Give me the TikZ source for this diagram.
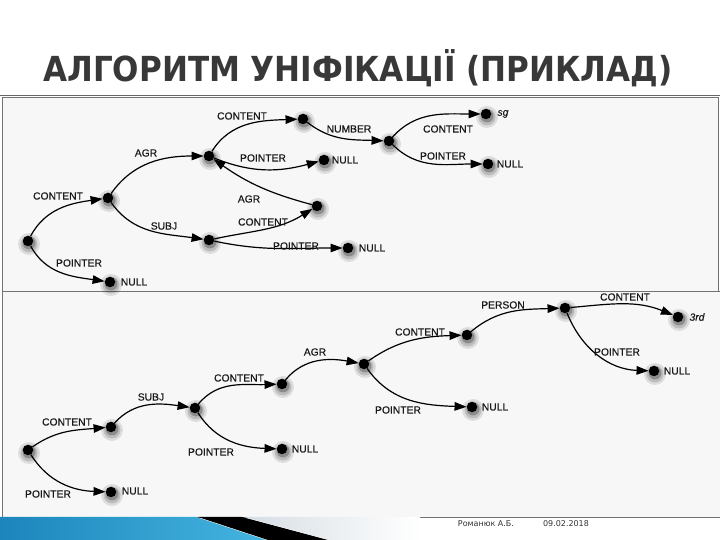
\documentclass[tikz,border=0pt]{standalone}
\usepackage{fontspec}
\setmainfont{Liberation Sans}
\newfontfamily\lblfont[FakeBold=0.4]{Liberation Sans}
\newfontfamily\titlefont{DejaVu Sans Condensed}
\newfontfamily\footfont{DejaVu Sans}
\usetikzlibrary{arrows.meta}
\definecolor{bandblue}{HTML}{1C86BC}
\definecolor{bandlight}{HTML}{45B4E0}
\definecolor{palegray}{HTML}{D6DEE4}
\definecolor{titlegray}{HTML}{383838}
\newcommand{\gdot}[3]{%
  \fill[black,opacity=0.10] (#2+1,#3-3) circle (11);
  \fill[black,opacity=0.15] (#2+1,#3-3) circle (8.5);
  \fill[black,opacity=0.25] (#2+1,#3-2) circle (6.5);
  \node[dot] (#1) at (#2,#3) {};}
\begin{document}
\begin{tikzpicture}[x=1pt,y=1pt,
  dot/.style={circle,fill=black,inner sep=0pt,minimum size=10.5pt},
  lbl/.style={font=\lblfont\fontsize{10.3}{12}\selectfont,inner sep=0pt,text=black!90},
  ilbl/.style={font=\lblfont\fontsize{10.3}{12}\selectfont\itshape,inner sep=0pt,text=black!90},
  edge/.style={line width=1.2pt,-{Triangle[length=12pt,width=8.5pt]}},
  panel/.style={fill=black!3,draw=black!55,line width=0.6pt},
]
\useasboundingbox (0,0) rectangle (720,540);
\fill[white] (0,0) rectangle (720,540);
% title
\node[font=\titlefont\bfseries\fontsize{34.5}{40}\selectfont,text=titlegray] (title) at (358,472) {АЛГОРИТМ УНІФІКАЦІЇ (ПРИКЛАД)};
% panels
\draw[panel] (2,443) rectangle (718,249);
\draw[panel] (2,249) rectangle (720,23);
\draw[black!60,line width=1pt] (0,444) -- (720,444);
% bottom band
\shade[left color=bandblue,right color=bandlight] (0,23) -- (196,23) -- (266,0) -- (0,0) -- cycle;
\fill[black] (198,23) -- (242,23) -- (328,0) -- (268,0) -- cycle;
\shade[left color=palegray,right color=white] (244,23) -- (420,23) -- (420,0) -- (330,0) -- cycle;
% footer
\node[font=\footfont\fontsize{8}{9}\selectfont,text=black!80] (author) at (486,16) {Романюк А.Б.};
\node[font=\footfont\fontsize{8}{9}\selectfont,text=black!80] (date) at (566,16) {09.02.2018};

% ---------- top graph ----------
\gdot{r1}{28}{299}
\gdot{c1}{108}{342}
\gdot{n1}{110}{258}
\gdot{a1}{209}{384}
\gdot{s1}{209}{300}
\gdot{t1}{303}{421}
\gdot{n2}{324}{380}
\gdot{b1}{317}{334}
\gdot{n3}{348}{292}
\gdot{m1}{389}{399}
\gdot{sg}{486}{426}
\gdot{n4}{488}{376}

\draw[edge] (r1) to[out=62,in=188] (c1);
\draw[edge] (r1) to[out=-62,in=172] (n1);
\draw[edge] (c1) to[out=55,in=180] (a1);
\draw[edge] (c1) to[out=-55,in=172] (s1);
\draw[edge] (a1) to[out=58,in=182] (t1);
\draw[edge] (a1) to[out=-22,in=195] (n2);
\draw[edge] (b1) to[out=165,in=-35] (a1);
\draw[edge] (s1) to[out=12,in=212] (b1);
\draw[edge] (s1) to[out=-12,in=180] (n3);
\draw[edge] (t1) to[out=-38,in=178] (m1);
\draw[edge] (m1) to[out=48,in=180] (sg);
\draw[edge] (m1) to[out=-45,in=180] (n4);

\node[lbl] (l1) at (58,344) {CONTENT};
\node[lbl] (l2) at (79,277) {POINTER};
\node[lbl] (l3) at (134,258) {NULL};
\node[lbl] (l4) at (146,387) {AGR};
\node[lbl] (l5) at (164,314) {SUBJ};
\node[lbl] (l6) at (242,424) {CONTENT};
\node[lbl] (l7) at (263,382) {POINTER};
\node[lbl] (l8) at (345,380) {NULL};
\node[lbl] (l9) at (249,341) {AGR};
\node[lbl] (l10) at (263,318) {CONTENT};
\node[lbl] (l11) at (296,294) {POINTER};
\node[lbl] (l12) at (372,292) {NULL};
\node[lbl] (l13) at (349,411) {NUMBER};
\node[lbl] (l14) at (448,411) {CONTENT};
\node[lbl] (l15) at (443,384) {POINTER};
\node[ilbl] (l16) at (503,426) {sg};
\node[lbl] (l17) at (510,376) {NULL};

% ---------- bottom graph ----------
\gdot{r2}{28}{90}
\gdot{c2}{111}{113}
\gdot{n5}{111}{48}
\gdot{s2}{195}{132}
\gdot{c3}{282}{156}
\gdot{n6}{282}{91}
\gdot{a2}{364}{176}
\gdot{p2}{467}{205}
\gdot{n7}{472}{133}
\gdot{q2}{565}{232}
\gdot{rd}{678}{223}
\gdot{n8}{654}{169}

\draw[edge] (r2) to[out=35,in=185] (c2);
\draw[edge] (r2) to[out=-58,in=178] (n5);
\draw[edge] (c2) to[out=48,in=172] (s2);
\draw[edge] (s2) to[out=50,in=182] (c3);
\draw[edge] (s2) to[out=-58,in=178] (n6);
\draw[edge] (c3) to[out=50,in=170] (a2);
\draw[edge] (a2) to[out=35,in=182] (p2);
\draw[edge] (a2) to[out=-55,in=178] (n7);
\draw[edge] (p2) to[out=40,in=182] (q2);
\draw[edge] (q2) to[out=5,in=158] (rd);
\draw[edge] (q2) to[out=-68,in=178] (n8);

\node[lbl] (m1l) at (67,118) {CONTENT};
\node[lbl] (m2l) at (48,46) {POINTER};
\node[lbl] (m3l) at (135,49) {NULL};
\node[lbl] (m4l) at (151,143) {SUBJ};
\node[lbl] (m5l) at (239,162) {CONTENT};
\node[lbl] (m6l) at (211,88) {POINTER};
\node[lbl] (m7l) at (305,91) {NULL};
\node[lbl] (m8l) at (315,188) {AGR};
\node[lbl] (m9l) at (420,208) {CONTENT};
\node[lbl] (m10l) at (398,130) {POINTER};
\node[lbl] (m11l) at (495,133) {NULL};
\node[lbl] (m12l) at (503,235) {PERSON};
\node[lbl] (m13l) at (625,243) {CONTENT};
\node[lbl] (m14l) at (617,188) {POINTER};
\node[lbl] (m15l) at (677,169) {NULL};
\node[ilbl] (m16l) at (697,223) {3rd};
\end{tikzpicture}
\end{document}
